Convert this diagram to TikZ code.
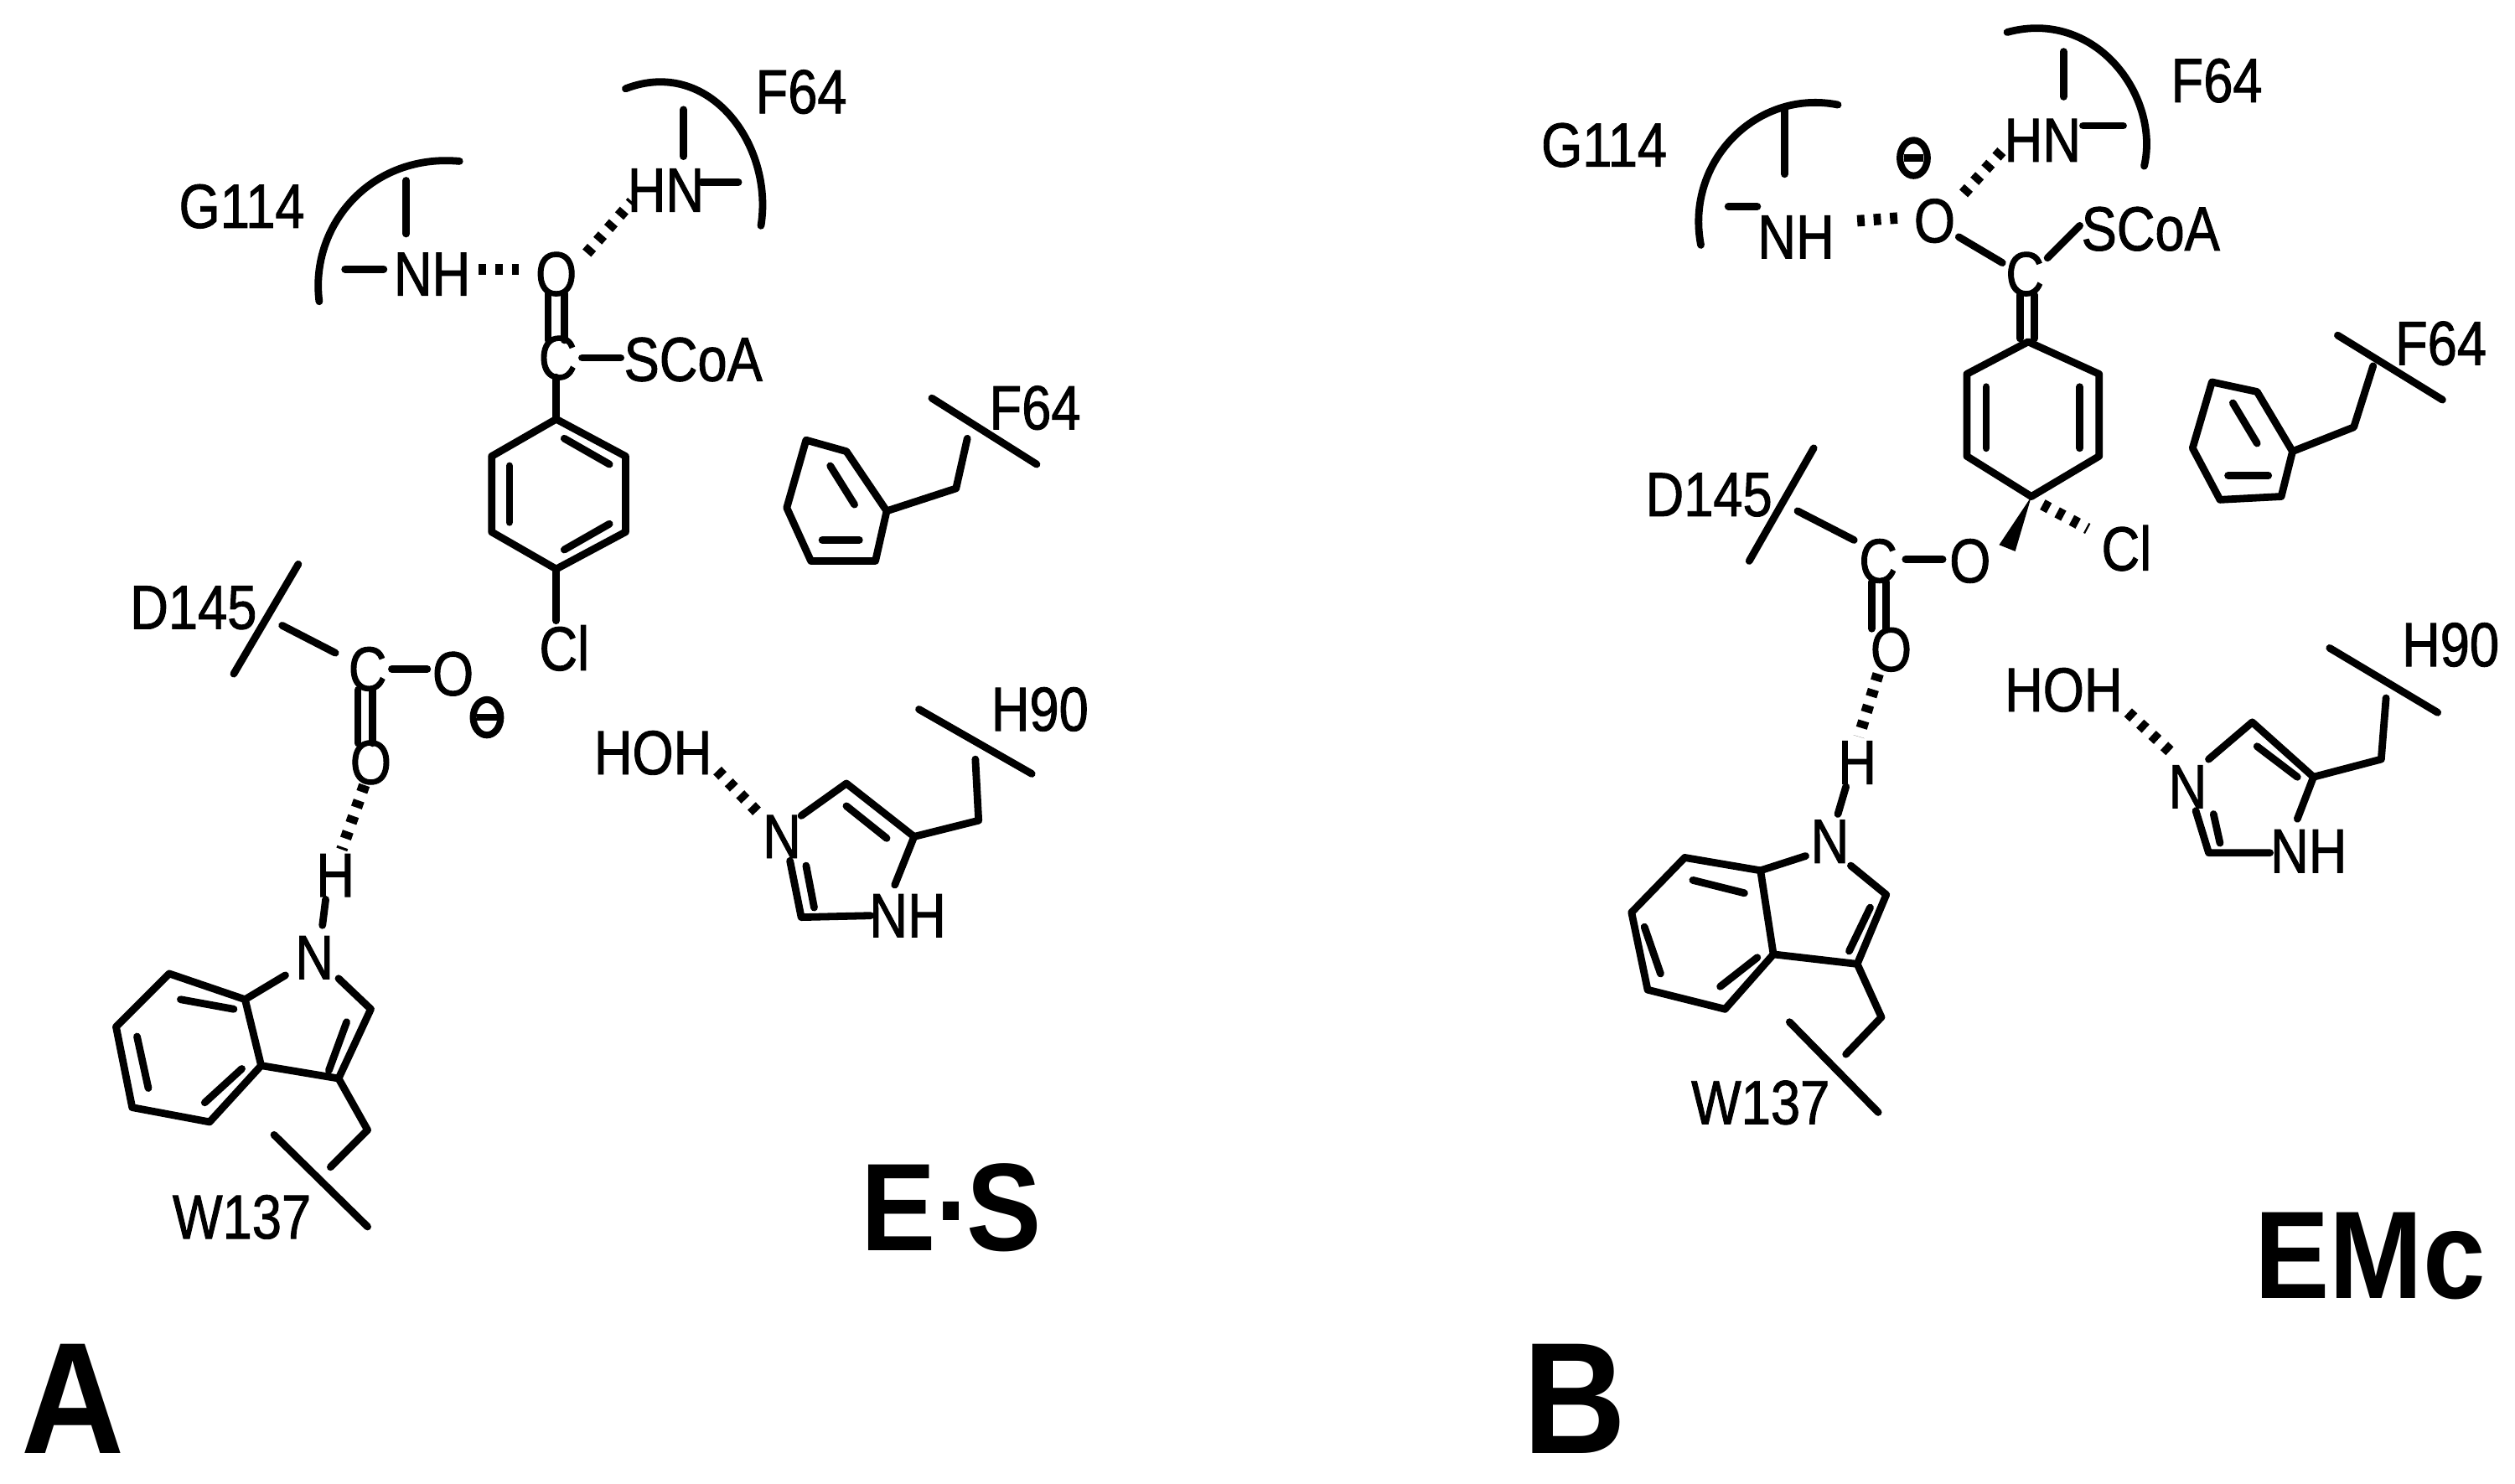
\documentclass[tikz,border=0pt]{standalone}
\usepackage{fontspec}
\usetikzlibrary{calc}
\setmainfont{Liberation Sans}[FakeStretch=0.85,FakeBold=1.2]
\newfontfamily\bigf{Liberation Sans}[FakeStretch=0.9]
\begin{document}
\begin{tikzpicture}[x=0.01cm,y=-0.01cm,
  bd/.style={line width=1.3pt,line cap=round,line join=round},
  hb/.style={line width=2pt,dash pattern=on 1.3pt off 1.6pt},
  lab/.style={inner sep=0pt,font=\fontsize{11}{11}\selectfont},
  big/.style={inner sep=0pt,font=\bigf\fontsize{22}{22}\selectfont\bfseries},
  huge/.style={inner sep=0pt,font=\bigf\fontsize{28}{28}\selectfont\bfseries}]
\useasboundingbox (0,0) rectangle (1560,920.6);
\newcommand\negch[1]{\draw[line width=1.2pt] #1 ellipse (8.5 and 11); \draw[line width=1.2pt] ($#1+(-6,0)$) -- ($#1+(6,0)$);}
% ================= PANEL A =================
\node[lab] (ga) at (150,128) {G114};
\draw[bd] (198,187) .. controls (192,140) and (230,95) .. (285,100);
\draw[bd] (252,112) -- (252,145);
\draw[bd] (214,167) -- (238,167);
\node[lab] (nha) at (268,170) {NH};
\draw[hb] (297,167) -- (325,167);
\node[lab] (oa) at (345,170) {O};
\draw[hb] (364,157) -- (392,125);
\node[lab] (hna) at (413,118) {HN};
\draw[bd] (435,113) -- (458,113);
\draw[bd] (424,68) -- (424,97);
\draw[bd] (388,55) .. controls (440,35) and (480,90) .. (472,140);
\node[lab] (fa1) at (497,57) {F64};
\draw[bd] (340,182) -- (340,211); \draw[bd] (350,182) -- (350,211);
\node[lab] (ca) at (346,222) {C};
\draw[bd] (361,222) -- (385,222);
\node[lab] (scoaa) at (430,223) {SCoA};
\draw[bd] (345,234) -- (345,260);
\draw[bd] (345,260) -- (388,283) -- (388,330) -- (345,353) -- (305,330) -- (305,283) -- cycle;
\draw[bd] (350,272) -- (378,288); \draw[bd] (316,289) -- (316,324); \draw[bd] (350,341) -- (378,325);
\draw[bd] (345,353) -- (345,385);
\node[lab] (cla) at (350,402) {Cl};
% F64 phenyl
\draw[bd] (500,273) -- (525,280) -- (550,317) -- (543,348) -- (503,348) -- (488,315) -- cycle;
\draw[bd] (515,289) -- (530,313); \draw[bd] (510,335) -- (533,335);
\draw[bd] (550,317) -- (593,303) -- (600,272);
\draw[bd] (578,247) -- (643,288);
\node[lab] (fa2) at (642,253) {F64};
% D145
\node[lab] (da) at (120,377) {D145};
\draw[bd] (185,350) -- (145,418);
\draw[bd] (175,388) -- (208,405);
\node[lab] (cda) at (228,415) {C};
\draw[bd] (243,415) -- (265,415);
\node[lab] (o1a) at (281,418) {O};
\negch{(302,445)}
\draw[bd] (222,428) -- (222,461); \draw[bd] (231,428) -- (231,461);
\node[lab] (o2a) at (230,473) {O};
\draw[hb] (226,487) -- (212,527);
\node[lab] (ha) at (208,543) {H};
\draw[bd] (202,558) -- (200,574);
\node[lab] (na) at (195,594) {N};
% indole A
\draw[bd] (210,607) -- (230,626) -- (210,669) -- (162,661) -- (152,620) -- (177,605);
\draw[bd] (215,634) -- (204,664);
\draw[bd] (152,620) -- (105,604) -- (72,637) -- (82,687) -- (130,696) -- (162,661);
\draw[bd] (112,620) -- (145,626); \draw[bd] (85,643) -- (92,675); \draw[bd] (127,684) -- (150,663);
\draw[bd] (210,669) -- (228,701) -- (205,724);
\draw[bd] (170,704) -- (228,761);
\node[lab] (wa) at (150,755) {W137};
% H90 A
\node[lab] (hoha) at (405,467) {HOH};
\draw[hb] (445,478) -- (472,506);
\node[lab] (n3a) at (485,519) {N};
\draw[bd] (497,506) -- (525,486) -- (567,519) -- (555,549);
\draw[bd] (525,500) -- (550,520);
\draw[bd] (540,568) -- (497,569) -- (490,534);
\draw[bd] (505,563) -- (500,537);
\node[lab] (nh2a) at (563,568) {NH};
\draw[bd] (567,519) -- (607,509) -- (605,471);
\draw[bd] (570,440) -- (640,480);
\node[lab] (h90a) at (645,440) {H90};
\node[big] (es) at (590,749) {E\raisebox{0.45ex}{.}S};
\node[huge] (pa) at (45,868) {A};
% ================= PANEL B =================
\node[lab] (gb) at (995,90) {G114};
\draw[bd] (1055,152) .. controls (1045,100) and (1090,55) .. (1140,65);
\draw[bd] (1107,67) -- (1107,108);
\draw[bd] (1072,128) -- (1090,128);
\node[lab] (nhb) at (1114,147) {NH};
\draw[hb] (1152,137) -- (1180,135);
\node[lab] (ob) at (1200,137) {O};
\negch{(1187,98)}
\draw[hb] (1218,120) -- (1245,90);
\node[lab] (hnb) at (1267,87) {HN};
\draw[bd] (1292,78) -- (1317,78);
\draw[bd] (1280,32) -- (1280,60);
\draw[bd] (1245,20) .. controls (1300,5) and (1340,60) .. (1330,103);
\node[lab] (fb1) at (1375,50) {F64};
\draw[bd] (1215,147) -- (1242,163);
\node[lab] (cb) at (1256,170) {C};
\draw[bd] (1270,160) -- (1290,140);
\node[lab] (scoab) at (1334,142) {SCoA};
\draw[bd] (1253,183) -- (1253,210); \draw[bd] (1262,183) -- (1262,210);
\draw[bd] (1258,212) -- (1302,232) -- (1302,283) -- (1260,308) -- (1220,283) -- (1220,232) -- cycle;
\draw[bd] (1232,240) -- (1232,278); \draw[bd] (1290,240) -- (1290,278);
\fill (1260,308) -- (1250,342) -- (1240,338) -- cycle;
\draw[hb] (1267,313) -- (1295,328);
\node[lab] (clb) at (1319,340) {Cl};
\node[lab] (o1b) at (1222,348) {O};
\draw[bd] (1182,347) -- (1205,347);
\node[lab] (cdb) at (1165,348) {C};
\node[lab] (db) at (1060,307) {D145};
\draw[bd] (1125,278) -- (1085,348);
\draw[bd] (1115,317) -- (1150,335);
\draw[bd] (1161,361) -- (1161,390); \draw[bd] (1170,361) -- (1170,390);
\node[lab] (o2b) at (1173,403) {O};
\draw[hb] (1165,418) -- (1153,457);
\node[lab] (hb) at (1152,473) {H};
\draw[bd] (1145,488) -- (1140,505);
\node[lab] (nb) at (1135,522) {N};
% indole B
\draw[bd] (1148,537) -- (1170,555) -- (1152,598) -- (1100,592) -- (1092,540) -- (1120,531);
\draw[bd] (1160,563) -- (1147,590);
\draw[bd] (1092,540) -- (1045,532) -- (1012,566) -- (1022,614) -- (1070,626) -- (1100,592);
\draw[bd] (1050,546) -- (1082,554); \draw[bd] (1020,575) -- (1030,604); \draw[bd] (1067,612) -- (1090,594);
\draw[bd] (1152,598) -- (1167,631) -- (1145,654);
\draw[bd] (1110,634) -- (1165,690);
\node[lab] (wb) at (1092,684) {W137};
% H90 B
\node[lab] (hohb) at (1280,428) {HOH};
\draw[hb] (1320,442) -- (1347,467);
\node[lab] (n3b) at (1357,488) {N};
\draw[bd] (1370,471) -- (1397,448) -- (1435,482) -- (1425,508);
\draw[bd] (1400,463) -- (1425,482);
\draw[bd] (1408,529) -- (1370,529) -- (1362,503);
\draw[bd] (1377,523) -- (1373,505);
\node[lab] (nh2b) at (1432,528) {NH};
\draw[bd] (1435,482) -- (1477,471) -- (1480,433);
\draw[bd] (1445,402) -- (1512,442);
\node[lab] (h90b) at (1520,400) {H90};
% F64 phenyl B
\draw[bd] (1372,237) -- (1400,243) -- (1422,280) -- (1415,308) -- (1377,310) -- (1360,278) -- cycle;
\draw[bd] (1385,250) -- (1400,275); \draw[bd] (1382,295) -- (1407,295);
\draw[bd] (1422,280) -- (1460,265) -- (1472,227);
\draw[bd] (1450,208) -- (1515,248);
\node[lab] (fb2) at (1514,213) {F64};
\node[big] (emc) at (1470,779) {EMc};
\node[huge] (pb) at (977,868) {B};
\end{tikzpicture}
\end{document}
